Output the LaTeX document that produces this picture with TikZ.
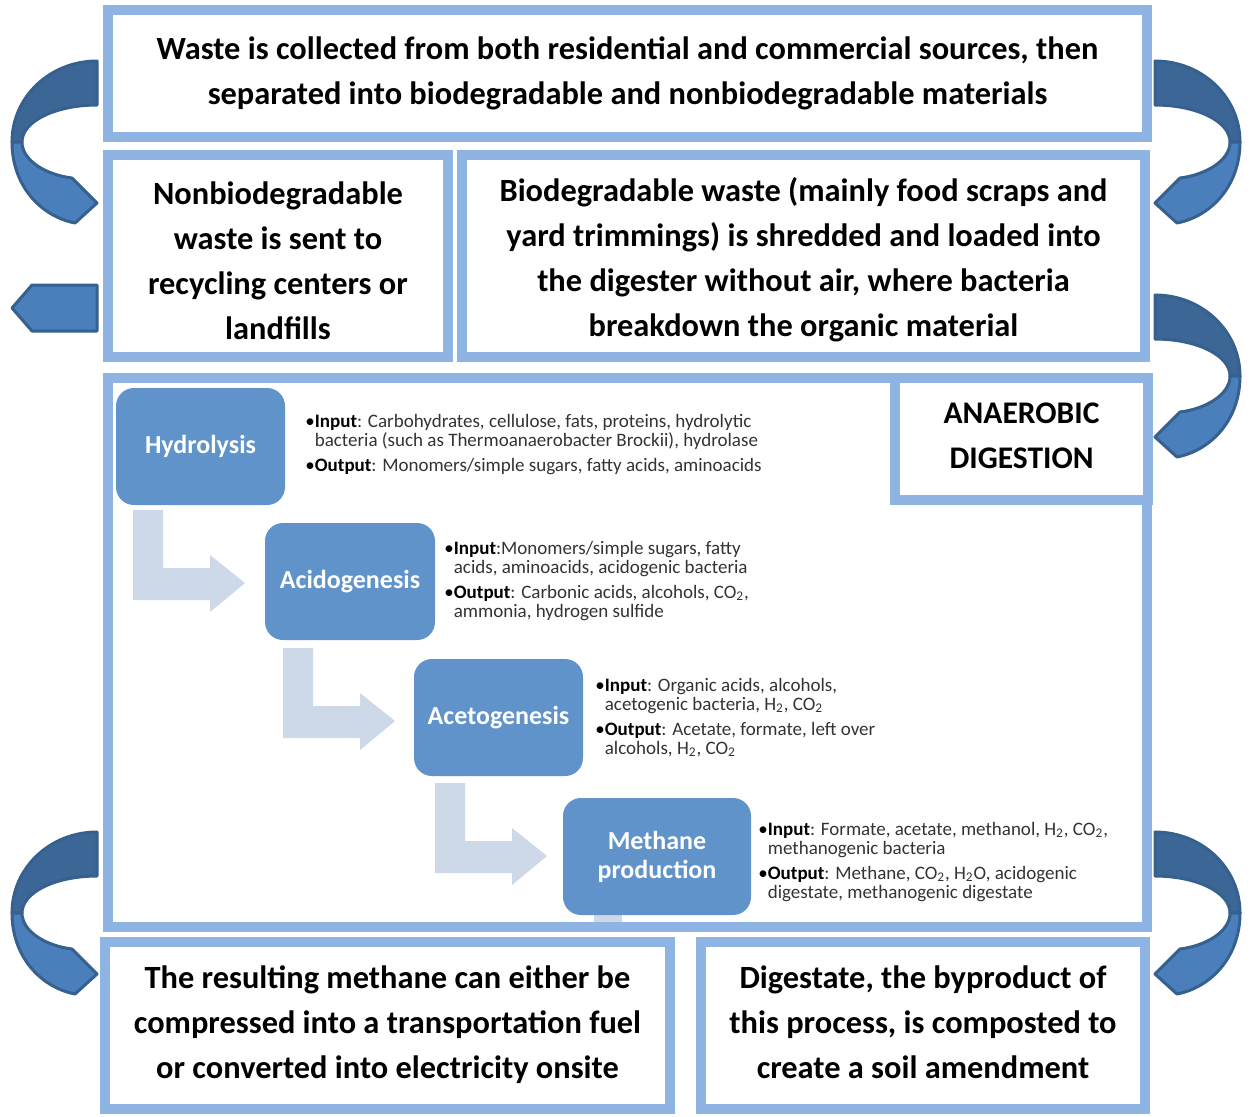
\documentclass[tikz,border=0pt]{standalone}
\usepackage{fontspec}
\setmainfont{Carlito}
\definecolor{bordc}{HTML}{8DB4E2}
\definecolor{procc}{HTML}{5F93CA}
\definecolor{bentc}{HTML}{CDD8E8}
\definecolor{darkc}{HTML}{3C6696}
\definecolor{lightc}{HTML}{4B7FBC}
\definecolor{linec}{HTML}{36608E}
\definecolor{bultxt}{HTML}{333333}
\tikzset{
 boxframe/.style={draw=bordc, line width=5pt, fill=white, inner sep=0pt},
 boxtext/.style={inner sep=0pt, align=center, text=black,
   font=\fontsize{16.2}{22.5}\selectfont\bfseries},
 proc/.style={fill=procc, rounded corners=9pt, text=white, inner sep=0pt, align=center,
   font=\fontsize{13}{14.5}\selectfont\bfseries},
 bul/.style={anchor=base west, align=left, inner sep=0pt, text=bultxt,
   font=\fontsize{9.5}{9.5}\selectfont},
 bentarr/.pic={\fill[bentc] (0,0) -- (30,0) -- (30,58) -- (77,58) -- (77,45) -- (112,73) -- (77,102) -- (77,90) -- (0,90) -- cycle;},
 curvarr/.pic={
   \filldraw[fill=darkc, draw=linec, line width=1.5pt, line join=round]
     (0,0) .. controls (-47,0) and (-85,36) .. (-85,81) -- (-75,81) .. controls (-75,60) and (-41,44) .. (0,44) -- cycle;
   \filldraw[fill=lightc, draw=linec, line width=1.5pt, line join=round]
     (-85,81) .. controls (-85,124) and (-57,155) .. (-22,162) -- (0,142) -- (-25,117) .. controls (-50,114) and (-75,100) .. (-75,81) -- cycle;
 },
 leftarr/.pic={
   \filldraw[fill=lightc, draw=linec, line width=1.5pt, line join=round]
     (0,0) -- (-65,0) -- (-85,23) -- (-65,46) -- (0,46) -- cycle;
 }
}
\newcommand{\bl}{\hphantom{•}}
\newcommand{\lab}[1]{{\color{black}•\textbf{#1}}}
\begin{document}
\begin{tikzpicture}[x=0.5pt,y=-0.5pt]
\useasboundingbox (0,0) rectangle (1252,1116);
\fill[white] (0,0) rectangle (1252,1116);

% frames
\node[boxframe, minimum width=519.5pt, minimum height=63.5pt] (top) at (627.5,73.5) {};
\node[boxtext] (toptx) at (top.center)
  {Waste is collected from both residential and commercial sources, then\\separated into biodegradable and nonbiodegradable materials};
\node[boxframe, minimum width=170pt, minimum height=101pt] (nonbio) at (278,256) {};
\node[boxtext, yshift=-2.3pt] (nonbiotx) at (nonbio.center)
  {Nonbiodegradable\\waste is sent to\\recycling centers or\\landfills};
\node[boxframe, minimum width=341.5pt, minimum height=101pt] (bio) at (803.5,256) {};
\node[boxtext, yshift=-2pt] (biotx) at (bio.center)
  {Biodegradable waste (mainly food scraps and\\yard trimmings) is shredded and loaded into\\the digester without air, where bacteria\\breakdown the organic material};
\node[boxframe, minimum width=519.5pt, minimum height=274.5pt] (digest) at (627.5,652.5) {};
\node[boxframe, minimum width=126.5pt, minimum height=61pt] (anaer) at (1021.5,439) {};
\node[boxtext, yshift=1.5pt, font=\fontsize{15.75}{22.75}\selectfont\bfseries] (anaertx) at (anaer.center) {ANAEROBIC\\DIGESTION};
\node[boxframe, minimum width=282.5pt, minimum height=83.5pt] (methout) at (387.5,1025.5) {};
\node[boxtext, yshift=0.5pt] (methouttx) at (methout.center)
  {The resulting methane can either be\\compressed into a transportation fuel\\or converted into electricity onsite};
\node[boxframe, minimum width=222pt, minimum height=83.5pt] (digestate) at (923,1025.5) {};
\node[boxtext, yshift=1.5pt] (digestatetx) at (digestate.center)
  {Digestate, the byproduct of\\this process, is composted to\\create a soil amendment};

% bent arrows
\pic at (133,510) {bentarr};
\pic at (283,648) {bentarr};
\pic at (435,783) {bentarr};
\fill[bentc] (594,912) rectangle (622,922);

% process boxes
\node[proc, minimum width=84.5pt, minimum height=58.5pt] (hydro) at (200.5,446.5) {Hydrolysis};
\node[proc, minimum width=85pt, minimum height=58.5pt] (acido) at (350,581.5) {Acidogenesis};
\node[proc, minimum width=84.5pt, minimum height=58.5pt] (aceto) at (498.5,717.5) {Acetogenesis};
\node[proc, minimum width=94pt, minimum height=58.5pt] (meth) at (657,856.5) {Methane\\production};

% bullet texts (anchored at baseline of last line)
\node[bul] (hydrotx) at (305,471) {\lab{Input}: Carbohydrates, cellulose, fats, proteins, hydrolytic\\
  \bl bacteria (such as Thermoanaerobacter Brockii), hydrolase\\[3pt]
  \lab{Output}: Monomers/simple sugars, fatty acids, aminoacids};
\node[bul] (acidotx) at (444,617) {\lab{Input}:Monomers/simple sugars, fatty\\
  \bl acids, aminoacids, acidogenic bacteria\\[3pt]
  \lab{Output}: Carbonic acids, alcohols, CO\textsubscript{2},\\
  \bl ammonia, hydrogen sulfide};
\node[bul] (acetotx) at (595,754) {\lab{Input}: Organic acids, alcohols,\\
  \bl acetogenic bacteria, H\textsubscript{2}, CO\textsubscript{2}\\[3pt]
  \lab{Output}: Acetate, formate, left over\\
  \bl alcohols, H\textsubscript{2}, CO\textsubscript{2}};
\node[bul] (methtx) at (758,898) {\lab{Input}: Formate, acetate, methanol, H\textsubscript{2}, CO\textsubscript{2},\\
  \bl methanogenic bacteria\\[3pt]
  \lab{Output}: Methane, CO\textsubscript{2}, H\textsubscript{2}O, acidogenic\\
  \bl digestate, methanogenic digestate};

% curved arrows
\pic at (97,61) {curvarr};
\pic at (97,285) {leftarr};
\pic at (97,832) {curvarr};
\pic[xscale=-1] at (1155,61) {curvarr};
\pic[xscale=-1] at (1155,295) {curvarr};
\pic[xscale=-1] at (1155,832) {curvarr};
\end{tikzpicture}
\end{document}
